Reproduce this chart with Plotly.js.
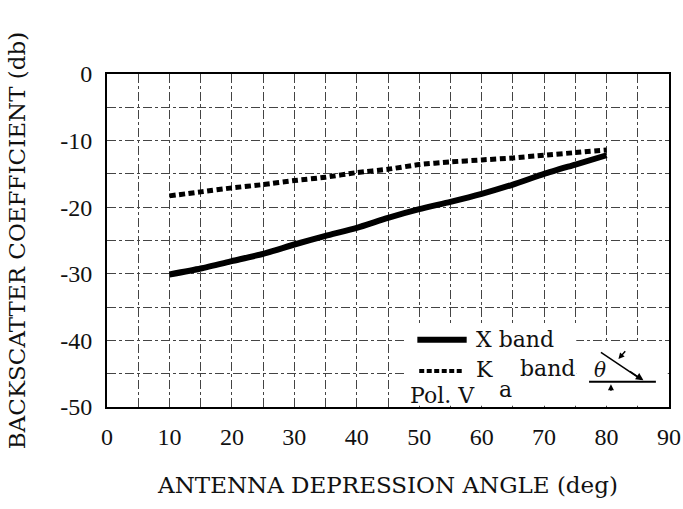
<!DOCTYPE html>
<html>
<head>
<meta charset="utf-8">
<script src="https://cdn.plot.ly/plotly-3.0.1.min.js"></script>
<style>html,body{margin:0;padding:0;background:#fff;}#chart{width:683px;height:509px;}</style>
</head>
<body>
<div id="chart"></div>
<script>
// Data
const angles = [10, 15, 20, 25, 30, 35, 40, 45, 50, 55, 60, 65, 70, 75, 80];
const xBand  = [-30.1, -29.2, -28.1, -27.0, -25.6, -24.3, -23.1, -21.6, -20.3, -19.2, -18.0, -16.6, -15.0, -13.6, -12.2];
const kaBand = [-18.3, -17.7, -17.1, -16.6, -16.0, -15.5, -14.8, -14.3, -13.6, -13.2, -12.9, -12.6, -12.2, -11.8, -11.4];

const xTickVals = [0, 5, 10, 15, 20, 25, 30, 35, 40, 45, 50, 55, 60, 65, 70, 75, 80, 85, 90];
const xTickText = ['0', '', '10', '', '20', '', '30', '', '40', '', '50', '', '60', '', '70', '', '80', '', '90'];
const yTickVals = [0, -5, -10, -15, -20, -25, -30, -35, -40, -45, -50];
const yTickText = ['0', '', '-10', '', '-20', '', '-30', '', '-40', '', '-50'];

const serif = 'DejaVu Serif, serif';
const tickFont = {family: 'Liberation Serif, serif', size: 24, color: '#111'};

const traces = [
  {x: angles, y: xBand, mode: 'lines', name: 'X band',
   line: {color: '#000', width: 6, shape: 'spline', smoothing: 0.6}},
  {x: angles, y: kaBand, mode: 'lines', name: 'Ka band',
   line: {color: '#000', width: 5, dash: '6px,3.5px', shape: 'spline', smoothing: 0.6}}
];

const gridCommon = {
  showgrid: true, gridcolor: '#444', gridwidth: 1, griddash: 'dashdot',
  showline: true, linecolor: '#000', linewidth: 2, mirror: true,
  zeroline: false, ticks: '', tickfont: tickFont, tickmode: 'array', automargin: false,
  ticklabeloverflow: 'allow'
};

const layout = {
  width: 683, height: 509,
  margin: {l: 107, r: 14, t: 74, b: 102},
  paper_bgcolor: '#fff', plot_bgcolor: '#fff',
  showlegend: false,
  xaxis: Object.assign({}, gridCommon, {
    range: [0, 90], tickvals: xTickVals, ticktext: xTickText,
    ticklabelstandoff: 7,
    title: {text: 'ANTENNA DEPRESSION ANGLE (deg)', font: {family: serif, size: 23, color: '#111'}, standoff: 28}
  }),
  yaxis: Object.assign({}, gridCommon, {
    range: [-50, 0], tickvals: yTickVals, ticktext: yTickText,
    ticklabelstandoff: 8,
    title: {text: 'BACKSCATTER COEFFICIENT (db)', font: {family: serif, size: 23, color: '#111'}, standoff: 28}
  }),
  shapes: [
    // white legend area covering the grid
    {type: 'rect', layer: 'between', xref: 'x', yref: 'y', x0: 47.6, x1: 75.15, y0: -49.8, y1: -37.8,
     fillcolor: '#fff', line: {width: 0}},
    {type: 'rect', layer: 'between', xref: 'x', yref: 'y', x0: 75.15, x1: 89.8, y0: -49.8, y1: -40.35,
     fillcolor: '#fff', line: {width: 0}},
    // legend samples
    {type: 'line', xref: 'x', yref: 'y', x0: 49.7, x1: 57.6, y0: -39.9, y1: -39.9, line: {color: '#000', width: 6}},
    {type: 'line', xref: 'x', yref: 'y', x0: 50.0, x1: 57.2, y0: -44.6, y1: -44.6, line: {color: '#000', width: 4, dash: '5px,2.5px'}},
    // theta diagram
    {type: 'line', xref: 'x', yref: 'y', x0: 77.2, x1: 87.9, y0: -46.2, y1: -46.2, line: {color: '#000', width: 2}},
    {type: 'line', xref: 'x', yref: 'y', x0: 79.1, x1: 85.6, y0: -41.8, y1: -45.9, line: {color: '#000', width: 1.5}}
  ],
  annotations: [
    {xref: 'x', yref: 'y', x: 58.7, y: -39.9, xanchor: 'left', yanchor: 'middle', showarrow: false,
     text: 'X band', font: {family: serif, size: 22, color: '#111'}},
    {xref: 'x', yref: 'y', x: 58.7, y: -44.4, xanchor: 'left', yanchor: 'middle', showarrow: false,
     text: 'K', font: {family: serif, size: 22, color: '#111'}},
    {xref: 'x', yref: 'y', x: 62.4, y: -47.4, xanchor: 'left', yanchor: 'middle', showarrow: false,
     text: 'a', font: {family: serif, size: 22, color: '#111'}},
    {xref: 'x', yref: 'y', x: 65.8, y: -44.2, xanchor: 'left', yanchor: 'middle', showarrow: false,
     text: 'band', font: {family: serif, size: 22, color: '#111'}},
    {xref: 'x', yref: 'y', x: 48.2, y: -48.2, xanchor: 'left', yanchor: 'middle', showarrow: false,
     text: 'Pol. V', font: {family: serif, size: 22, color: '#111'}},
    {xref: 'x', yref: 'y', x: 79.0, y: -44.5, xanchor: 'center', yanchor: 'middle', showarrow: false,
     text: '<i>θ</i>', font: {family: serif, size: 20, color: '#111'}},
    // arrowheads of the theta diagram
    {xref: 'x', yref: 'y', axref: 'x', ayref: 'y', x: 85.9, y: -46.0, ax: 83.5, ay: -44.5, text: '',
     showarrow: true, arrowhead: 2, arrowsize: 1, arrowwidth: 1.5, arrowcolor: '#000'},
    {xref: 'x', yref: 'y', axref: 'x', ayref: 'y', x: 81.9, y: -42.8, ax: 83.2, ay: -41.4, text: '',
     showarrow: true, arrowhead: 2, arrowsize: 0.8, arrowwidth: 1.5, arrowcolor: '#000'},
    {xref: 'x', yref: 'y', axref: 'x', ayref: 'y', x: 80.7, y: -46.6, ax: 80.7, ay: -47.8, text: '',
     showarrow: true, arrowhead: 2, arrowsize: 0.8, arrowwidth: 1.5, arrowcolor: '#000'}
  ]
};

Plotly.newPlot('chart', traces, layout, {displayModeBar: false, staticPlot: true});
</script>
</body>
</html>
